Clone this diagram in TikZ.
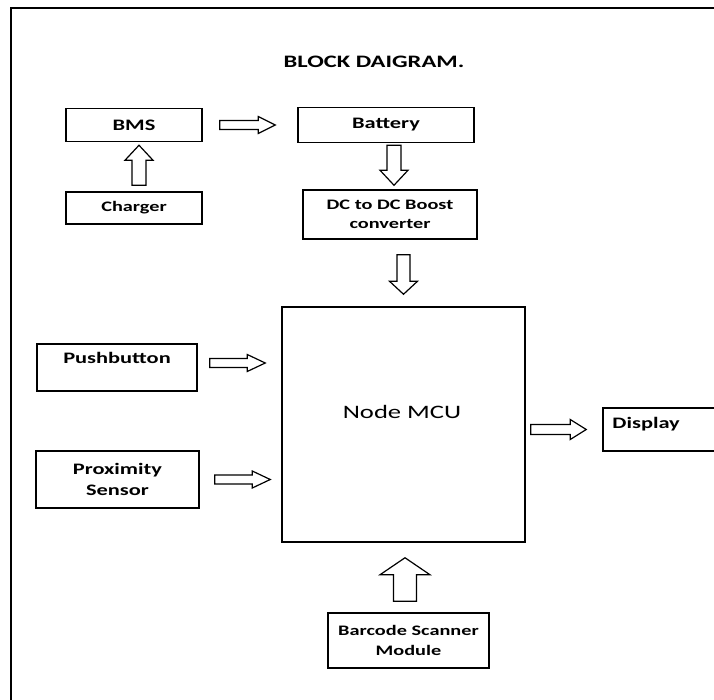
\documentclass[tikz,border=0pt]{standalone}
\usepackage{fontspec}
\setmainfont{Carlito}[FakeStretch=1.4]
\usetikzlibrary{calc}

\tikzset{
	box/.style={draw, line width=1.5pt, inner sep=0pt, align=center},
	lbl/.style={font=\fontsize{16}{21}\selectfont\bfseries},
	sml/.style={font=\fontsize{14.5}{19.5}\selectfont\bfseries},
	arrshaft/.store in=\arrshaft, arrhead/.store in=\arrhead, arrlen/.store in=\arrlen,
	arrshaft=4.5pt, arrhead=8.5pt, arrlen=17pt,
	hollow/.style={to path={
		(\tikztostart) coordinate (s) (\tikztotarget) coordinate (e)
		($(s)!\arrshaft!90:(e)$)
		-- ($(e)!\arrlen!(s)!\arrshaft!-90:(s)$)
		-- ($(e)!\arrlen!(s)!\arrhead!-90:(s)$)
		-- (e)
		-- ($(e)!\arrlen!(s)!\arrhead!90:(s)$)
		-- ($(e)!\arrlen!(s)!\arrshaft!90:(s)$)
		-- ($(s)!\arrshaft!-90:(e)$)
		-- cycle}},
	thinarr/.style={hollow, arrshaft=4.5pt, arrhead=8.5pt, arrlen=17pt},
	widearr/.style={hollow, arrshaft=7pt, arrhead=14pt, arrlen=15pt},
	bigarr/.style={hollow, arrshaft=11.5pt, arrhead=25pt, arrlen=17pt},
	arrline/.style={draw, line width=1.2pt, line join=miter}
}

\begin{document}
\begin{tikzpicture}[x=1pt, y=-1pt]
		\clip (0,0) rectangle (714,700);
		\fill[white] (0,0) rectangle (714,700);
		\draw[line width=1.5pt] (11,8) rectangle (730,720);
		\node (title) [font=\fontsize{17.5}{21}\selectfont\bfseries] at (374,62) {BLOCK DAIGRAM.};

		\node (bms) [box, lbl, minimum width=136pt, minimum height=33pt] at (134,125) {BMS};
		\node (bat) [box, lbl, minimum width=176pt, minimum height=35pt] at (386,125) {Battery};
		\node (chg) [box, sml, minimum width=136pt, minimum height=32pt] at (134,208) {Charger};
		\node (dcdc) [box, sml, minimum width=174pt, minimum height=49pt] at (390,214.5) {DC to DC Boost\\converter};
		\node (mcu) [box, minimum width=243pt, minimum height=235pt] at (403.5,424.5) {};
		\node (mcut) [font=\fontsize{19}{23}\selectfont] at ([xshift=-1.5pt, yshift=12.5pt]mcu.center) {Node MCU};
		\node (push) [box, minimum width=160pt, minimum height=47pt] at (117,367.5) {};
		\node (pusht) [lbl] at ([yshift=9.5pt]push.center) {Pushbutton};
		\node (prox) [box, lbl, minimum width=163pt, minimum height=57pt] at (117.5,479.5) {Proximity\\Sensor};
		\node (disp) [box, minimum width=127pt, minimum height=43pt] at (666.5,429.5) {};
		\node (dispt) [lbl, anchor=west, inner sep=0pt] at ([xshift=10pt, yshift=5.5pt]disp.west) {Display};
		\node (scan) [box, sml, minimum width=161pt, minimum height=55pt] at (408.5,640.5) {Barcode Scanner\\Module};

		\draw[arrline] ([xshift=17pt]bms.east) to[thinarr] ([xshift=-22pt]bat.west);
		\draw[arrline] ([xshift=5pt, yshift=6pt]chg.north) to[widearr] ([xshift=5pt, yshift=-3pt]bms.south);
		\draw[arrline] ([xshift=8pt, yshift=-2pt]bat.south) to[widearr] ([xshift=4pt, yshift=4pt]dcdc.north);
		\draw[arrline] ([xshift=13.5pt, yshift=-15pt]dcdc.south) to[widearr, arrshaft=6.5pt, arrlen=13pt] ([yshift=12pt]mcu.north);
		\draw[arrline] ([xshift=12pt, yshift=4.5pt]push.east) to[thinarr, arrlen=18pt] ([xshift=-16pt, yshift=4.5pt]push.east -| mcu.west);
		\draw[arrline] ([xshift=15pt]prox.east) to[thinarr, arrlen=18pt] ([xshift=-11pt]prox.east -| mcu.west);
		\draw[arrline] ([xshift=5pt]disp.west -| mcu.east) to[thinarr, arrshaft=5pt, arrhead=10pt, arrlen=16pt] ([xshift=-16pt]disp.west);
		\draw[arrline] ([xshift=-3.5pt, yshift=11pt]scan.north) to[bigarr] ([xshift=1.5pt, yshift=-15pt]mcu.south);
\end{tikzpicture}
\end{document}
